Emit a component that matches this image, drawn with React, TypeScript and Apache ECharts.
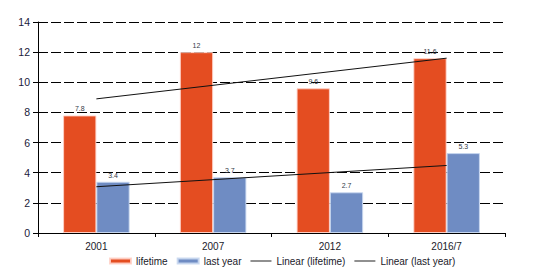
import React, { useEffect, useRef } from "react";
import * as echarts from "echarts";

const categories = ["2001", "2007", "2012", "2016/7"];
const lifetime = [7.8, 12, 9.6, 11.6];
const lastYear = [3.4, 3.7, 2.7, 5.3];
// trend line end points (first and last category)
const lifetimeTrend = [8.9, null, null, 11.6];
const lastYearTrend = [3.07, null, null, 4.48];
const yTicks = { min: 0, max: 14, interval: 2 };

export default function App() {
  const ref = useRef<HTMLDivElement>(null);
  useEffect(() => {
    if (!ref.current) return;
    const chart = echarts.init(ref.current, null, { renderer: "svg" });
    const font = "Liberation Sans, Arial, sans-serif";
    const labelStyle = {
      show: true,
      position: "top",
      distance: 3,
      fontSize: 7,
      color: "#333a48",
      fontFamily: font,
    };
    const lineIcon = "path://M0,0L24,0L24,1L0,1Z";
    chart.setOption({
      animation: false,
      backgroundColor: "#ffffff",
      textStyle: { fontFamily: font },
      grid: { left: 38, right: 44, top: 22, bottom: 44, containLabel: false },
      legend: {
        left: 104,
        bottom: 6,
        itemWidth: 21,
        itemHeight: 5,
        itemGap: 9,
        textStyle: { fontSize: 10, color: "#1a1a2a", fontFamily: font },
        data: [
          { name: "lifetime", icon: "rect" },
          { name: "last year", icon: "rect" },
          { name: "Linear (lifetime)", icon: lineIcon, itemStyle: { color: "#000" } },
          { name: "Linear (last year)", icon: lineIcon, itemStyle: { color: "#000" } },
        ],
      },
      xAxis: {
        type: "category",
        data: categories,
        boundaryGap: true,
        axisLine: { lineStyle: { color: "#000", width: 1 } },
        axisTick: { show: true, length: 4, lineStyle: { color: "#000" } },
        axisLabel: { fontSize: 10, color: "#1a1a2a", margin: 8 },
        splitLine: { show: false },
      },
      yAxis: {
        type: "value",
        min: yTicks.min,
        max: yTicks.max,
        interval: yTicks.interval,
        axisLine: { show: true, lineStyle: { color: "#000", width: 1 } },
        axisTick: { show: true, length: 5, lineStyle: { color: "#000" } },
        axisLabel: { fontSize: 10.5, color: "#1a1a3a", margin: 8 },
        splitLine: {
          show: true,
          lineStyle: { color: "#000", width: 1, type: [10, 3] },
        },
      },
      series: [
        {
          name: "lifetime",
          type: "bar",
          data: lifetime,
          barGap: "0%",
          barCategoryGap: "43%",
          itemStyle: {
            color: "#E44D21",
            borderColor: "rgba(255,210,200,0.9)",
            borderWidth: 1,
          },
          label: labelStyle,
        },
        {
          name: "last year",
          type: "bar",
          data: lastYear,
          itemStyle: {
            color: "#6F8CC3",
            borderColor: "rgba(200,215,240,0.9)",
            borderWidth: 1,
          },
          label: labelStyle,
        },
        {
          name: "Linear (lifetime)",
          type: "line",
          data: lifetimeTrend,
          connectNulls: true,
          symbol: "none",
          itemStyle: { color: "#000" },
          lineStyle: { color: "#111", width: 1 },
          z: 5,
        },
        {
          name: "Linear (last year)",
          type: "line",
          data: lastYearTrend,
          connectNulls: true,
          symbol: "none",
          itemStyle: { color: "#000" },
          lineStyle: { color: "#111", width: 1 },
          z: 5,
        },
      ],
    });
    return () => chart.dispose();
  }, []);
  return (
    <div
      ref={ref}
      style={{ position: "fixed", left: 0, top: 0, width: 549, height: 277 }}
    />
  );
}
